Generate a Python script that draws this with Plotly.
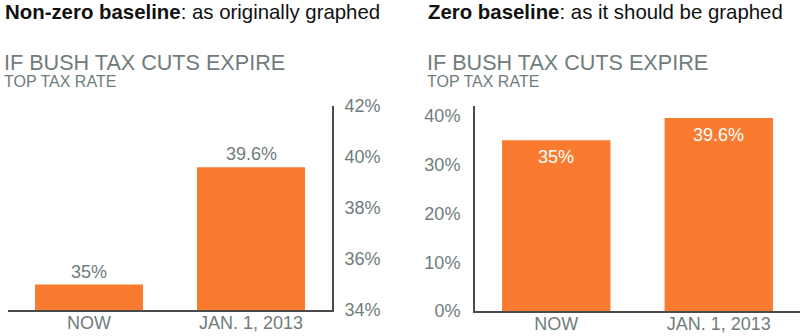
import plotly.graph_objects as go

categories = ["NOW", "JAN. 1, 2013"]
top_rate = [35, 39.6]
bar_labels = ["35%", "39.6%"]
left_ticks = [34, 36, 38, 40, 42]
right_ticks = [0, 10, 20, 30, 40]

ORANGE = "#fa7b2f"
GRAY = "#6f7c7c"
AXIS = "#4a4a4a"
FONT = "Liberation Sans"

W, H = 800, 336

def px_x(p):
    return p / W

def px_y(p):
    return 1 - p / H

fig = go.Figure()
fig.add_trace(go.Bar(x=categories, y=top_rate, marker_color=ORANGE,
                     xaxis="x", yaxis="y", hoverinfo="skip", width=0.667))
fig.add_trace(go.Bar(x=categories, y=top_rate, marker_color=ORANGE,
                     xaxis="x2", yaxis="y2", hoverinfo="skip", width=0.667))

common_x = dict(type="category", range=[-0.5, 1.5], showline=True, linecolor=AXIS,
                linewidth=2, showgrid=False, zeroline=False, ticks="", automargin=False,
                ticklabelstandoff=-5,
                tickfont=dict(family=FONT, size=18, color=GRAY), fixedrange=True)

fig.update_layout(
    template="none",
    width=W, height=H,
    margin=dict(l=0, r=0, t=0, b=0, pad=0),
    paper_bgcolor="white", plot_bgcolor="white",
    showlegend=False,
    font=dict(family=FONT, color=GRAY),
    xaxis=dict(domain=[px_x(8), px_x(332)], anchor="y", **common_x),
    yaxis=dict(domain=[px_y(310), px_y(106)], range=[34, 42], side="right",
               anchor="x", tickvals=left_ticks,
               ticktext=[f"{v}%" for v in left_ticks],
               showline=True, linecolor=AXIS, linewidth=2, showgrid=False,
               zeroline=False, ticks="", ticklabelstandoff=7, automargin=False,
               fixedrange=True,
               tickfont=dict(family=FONT, size=18, color=GRAY)),
    xaxis2=dict(domain=[px_x(475), px_x(800)], anchor="y2", **common_x),
    yaxis2=dict(domain=[px_y(311), px_y(106)], range=[0, 42.05], side="left",
                anchor="x2", tickvals=right_ticks,
                ticktext=[f"{v}%" for v in right_ticks],
                showline=True, linecolor=AXIS, linewidth=2, showgrid=False,
                zeroline=False, ticks="", ticklabelstandoff=9, automargin=False,
                fixedrange=True,
                tickfont=dict(family=FONT, size=18, color=GRAY)),
)

ann = []
# Headline titles
ann.append(dict(xref="paper", yref="paper", x=px_x(3), y=px_y(12), xanchor="left",
                yanchor="middle", showarrow=False,
                text="<b>Non-zero baseline</b>: as originally graphed",
                font=dict(family=FONT, size=20.4, color="#111111")))
ann.append(dict(xref="paper", yref="paper", x=px_x(426), y=px_y(12), xanchor="left",
                yanchor="middle", showarrow=False,
                text="<b>Zero baseline</b>: as it should be graphed",
                font=dict(family=FONT, size=20.4, color="#111111")))
for x0 in (4, 427):
    ann.append(dict(xref="paper", yref="paper", x=px_x(x0 - 2), y=px_y(62.5), xanchor="left",
                    yanchor="middle", showarrow=False, text="IF BUSH TAX CUTS EXPIRE",
                    font=dict(family=FONT, size=21.6, color=GRAY)))
    ann.append(dict(xref="paper", yref="paper", x=px_x(x0 - 2), y=px_y(81), xanchor="left",
                    yanchor="middle", showarrow=False, text="TOP TAX RATE",
                    font=dict(family=FONT, size=16, color=GRAY)))

# Bar value labels
for c, v, t in zip(categories, top_rate, bar_labels):
    ann.append(dict(xref="x", yref="y", x=c, y=v, xanchor="center", yanchor="bottom",
                    yshift=1, showarrow=False, text=t,
                    font=dict(family=FONT, size=18, color=GRAY)))
    ann.append(dict(xref="x2", yref="y2", x=c, y=v, xanchor="center", yanchor="top",
                    yshift=-5, showarrow=False, text=t,
                    font=dict(family=FONT, size=18, color="white")))

fig.update_layout(annotations=ann)
fig.write_html("out.html", config={"displayModeBar": False})
